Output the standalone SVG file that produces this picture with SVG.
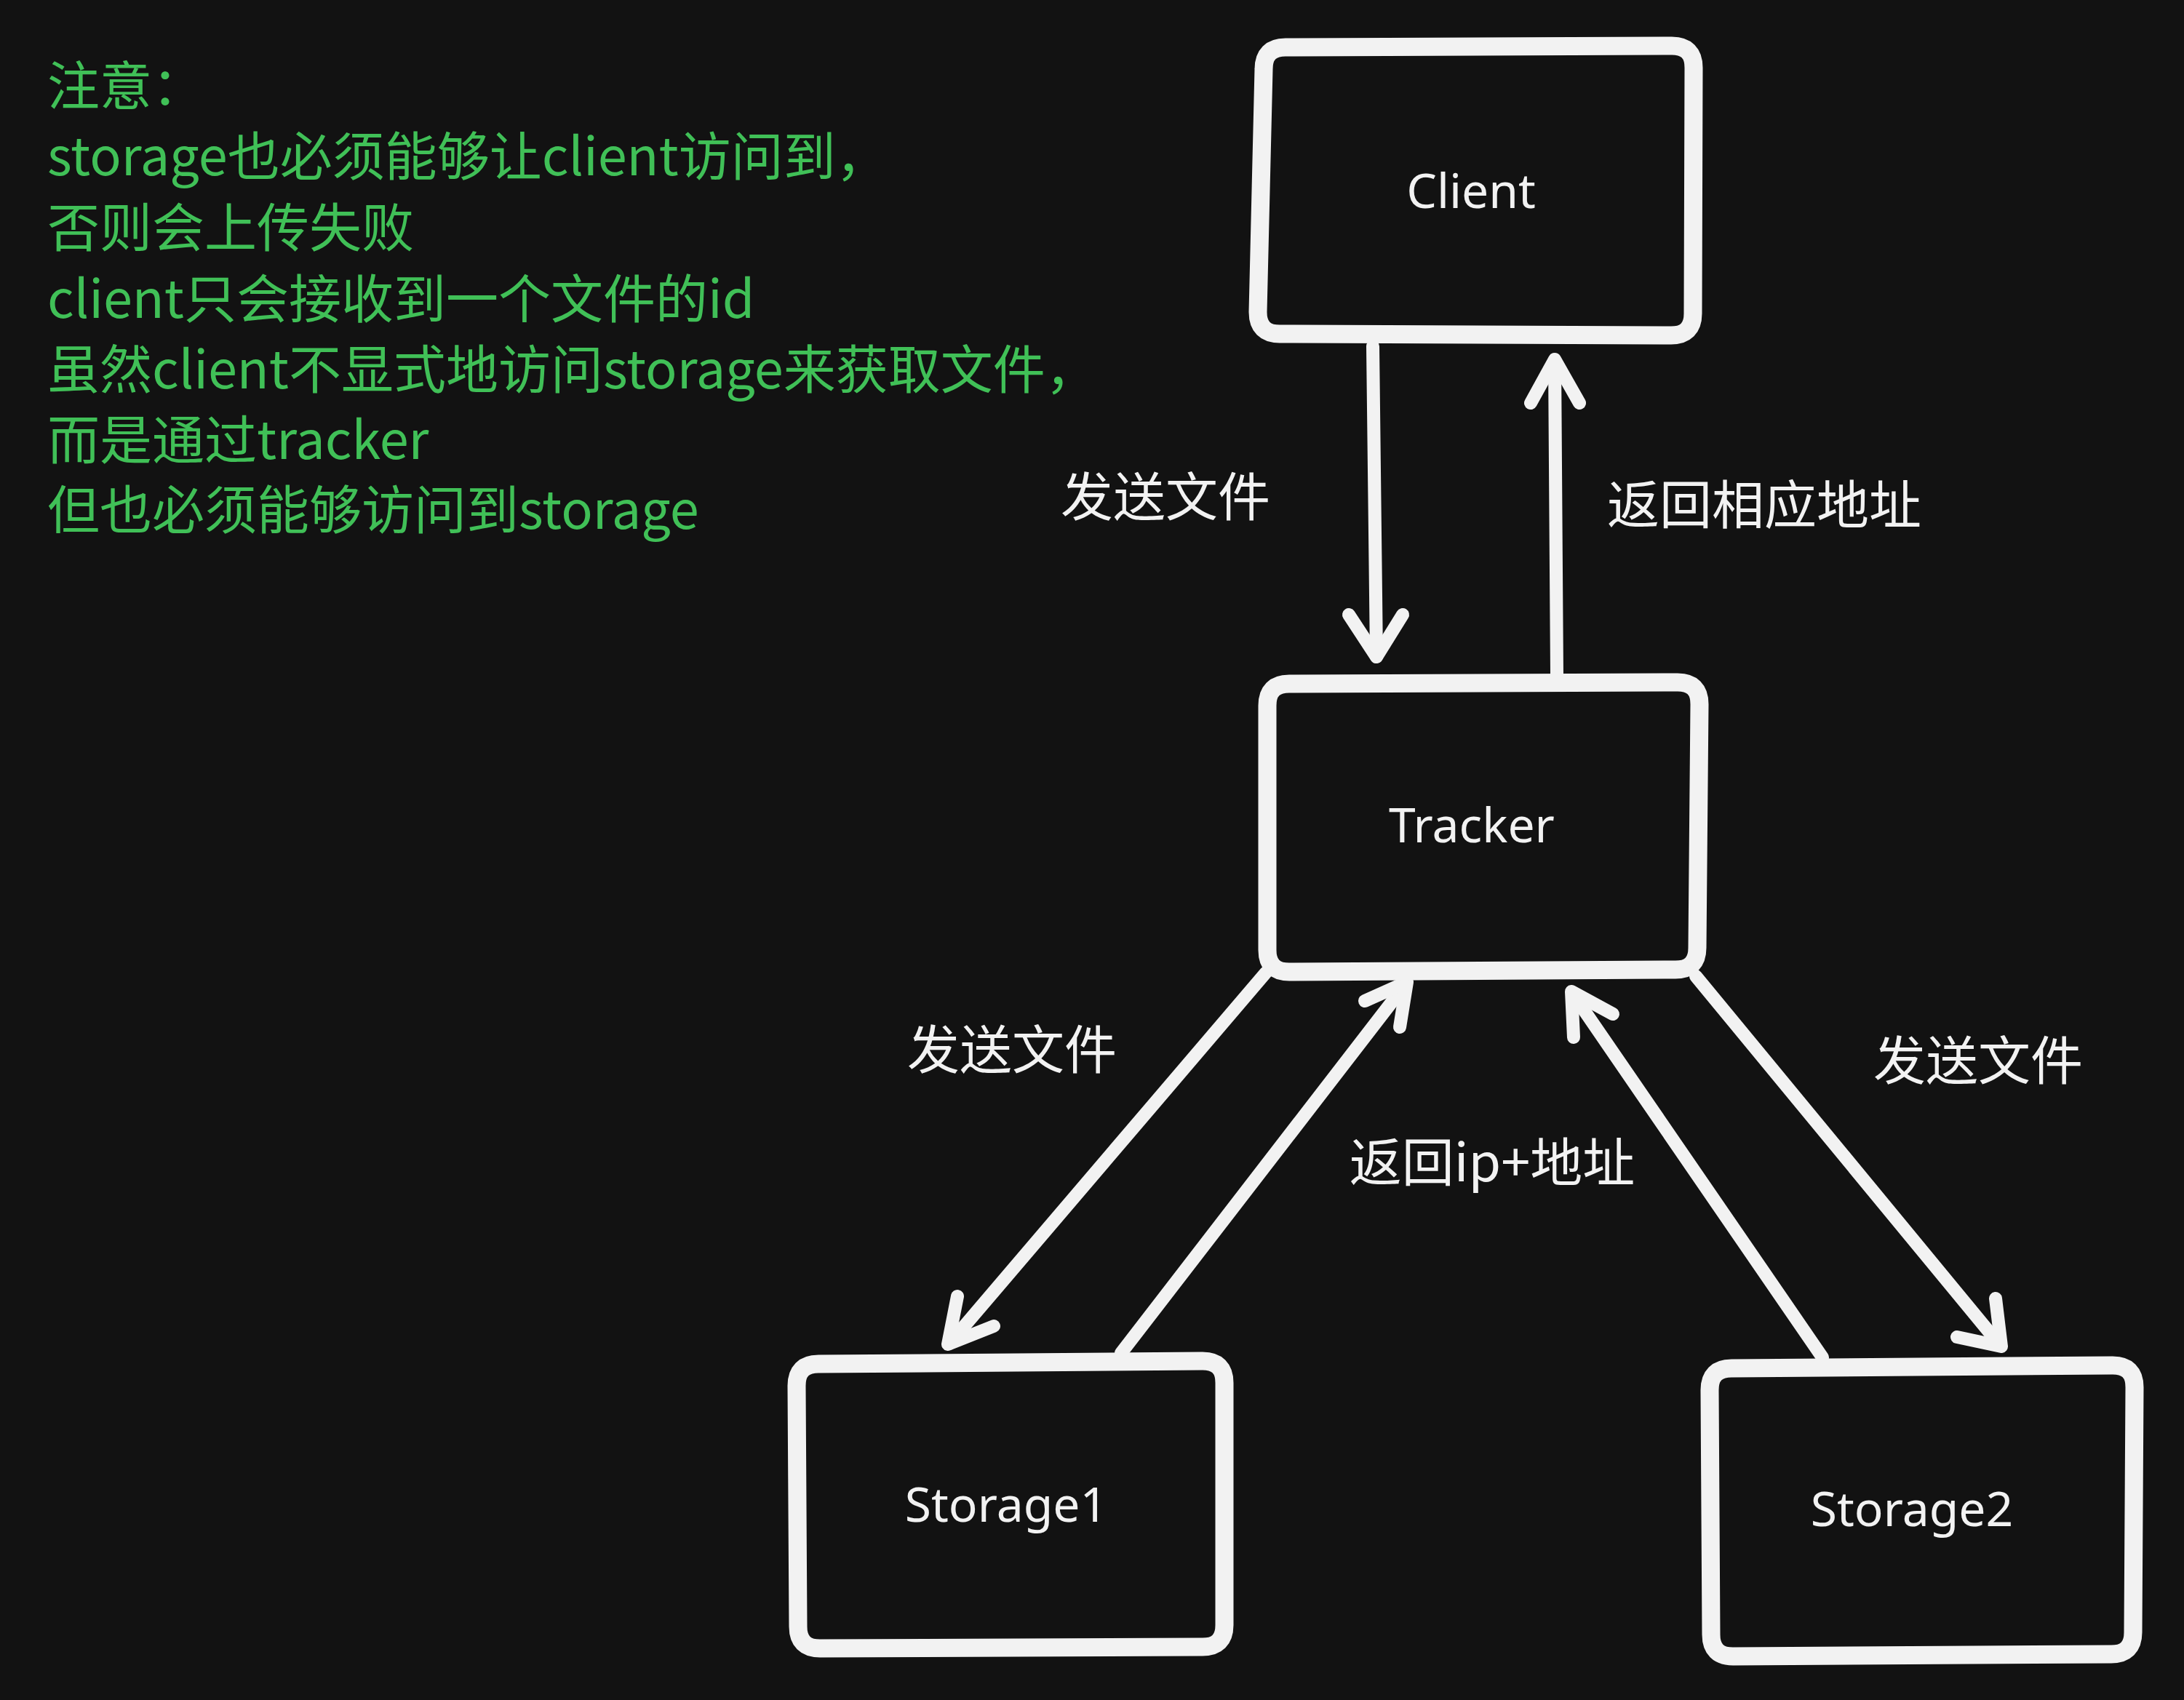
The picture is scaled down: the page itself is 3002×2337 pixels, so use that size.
<svg xmlns="http://www.w3.org/2000/svg" width="3002" height="2337" viewBox="0 0 3002 2337">
<defs>
<style>
.box{fill:#121212;stroke:#f2f2f2;stroke-width:25;stroke-linejoin:round}
.node-label{fill:#f2f2f2;font-family:"Noto Sans","Noto Sans CJK SC",sans-serif;font-size:66px;text-anchor:middle}
.edge{fill:none;stroke:#f2f2f2;stroke-width:18;stroke-linecap:round;stroke-linejoin:round}
.edge-label{fill:#f2f2f2;font-family:"Noto Sans CJK SC",sans-serif;font-size:72px;text-anchor:middle;dominant-baseline:central}
.note{fill:#40c057;font-family:"Noto Sans CJK SC",sans-serif;font-size:72px;dominant-baseline:central}
</style>
</defs>
<rect x="0" y="0" width="3002" height="2337" fill="#121212"/>

<g id="note">
<text class="note" x="65" y="112">注意：</text>
<text class="note" x="65" y="209">storage也必须能够让client访问到，</text>
<text class="note" x="65" y="307">否则会上传失败</text>
<text class="note" x="65" y="405">client只会接收到一个文件的id</text>
<text class="note" x="65" y="502">虽然client不显式地访问storage来获取文件，</text>
<text class="note" x="65" y="599">而是通过tracker</text>
<text class="note" x="65" y="695">但也必须能够访问到storage</text>
</g>

<g id="connectors">
<path class="edge" d="M1887,476 L1892,903"/>
<path class="edge" d="M1854,845 L1892,903 L1928,845"/>
<path class="edge" d="M2140,928 L2137,496"/>
<path class="edge" d="M2104,554 L2137,494 L2171,554"/>
<path class="edge" d="M1740,1337 L1305,1847"/>
<path class="edge" d="M1316,1782 L1303,1848 L1366,1823"/>
<path class="edge" d="M1541,1860 L1932,1353"/>
<path class="edge" d="M1876,1376 L1934,1350 L1924,1412"/>
<path class="edge" d="M2505,1866 L2161,1365"/>
<path class="edge" d="M2163,1426 L2160,1363 L2217,1394"/>
<path class="edge" d="M2331,1342 L2749,1849"/>
<path class="edge" d="M2743,1785 L2751,1851 L2690,1838"/>
<text class="edge-label" x="1602" y="677">发送文件</text>
<text class="edge-label" x="2425" y="688">返回相应地址</text>
<text class="edge-label" x="1391" y="1437">发送文件</text>
<text class="edge-label" x="2051" y="1592">返回ip+地址</text>
<text class="edge-label" x="2719" y="1452">发送文件</text>
</g>

<g id="client">
<path class="box" d="M1767,65 L2298,63 Q2328,63 2328,93 L2327,431 Q2327,461 2297,461 L1759,459 Q1729,459 1729,429 L1737,95 Q1737,65 1767,65 Z"/>
<text class="node-label" x="2022" y="286">Client</text>
</g>

<g id="tracker">
<path class="box" d="M1772,940 L2306,938 Q2336,938 2336,968 L2333,1303 Q2333,1333 2303,1333 L1772,1336 Q1742,1336 1742,1306 L1742,970 Q1742,940 1772,940 Z"/>
<text class="node-label" x="2023" y="1158">Tracker</text>
</g>

<g id="storage1">
<path class="box" d="M1125,1875 L1653,1871 Q1683,1871 1683,1901 L1683,2234 Q1683,2264 1653,2264 L1127,2266 Q1097,2266 1097,2236 L1095,1905 Q1095,1875 1125,1875 Z"/>
<text class="node-label" x="1383" y="2092">Storage1</text>
</g>

<g id="storage2">
<path class="box" d="M2380,1881 L2904,1877 Q2934,1877 2934,1907 L2932,2244 Q2932,2274 2902,2274 L2382,2277 Q2352,2277 2352,2247 L2350,1911 Q2350,1881 2380,1881 Z"/>
<text class="node-label" x="2628" y="2098">Storage2</text>
</g>
</svg>
